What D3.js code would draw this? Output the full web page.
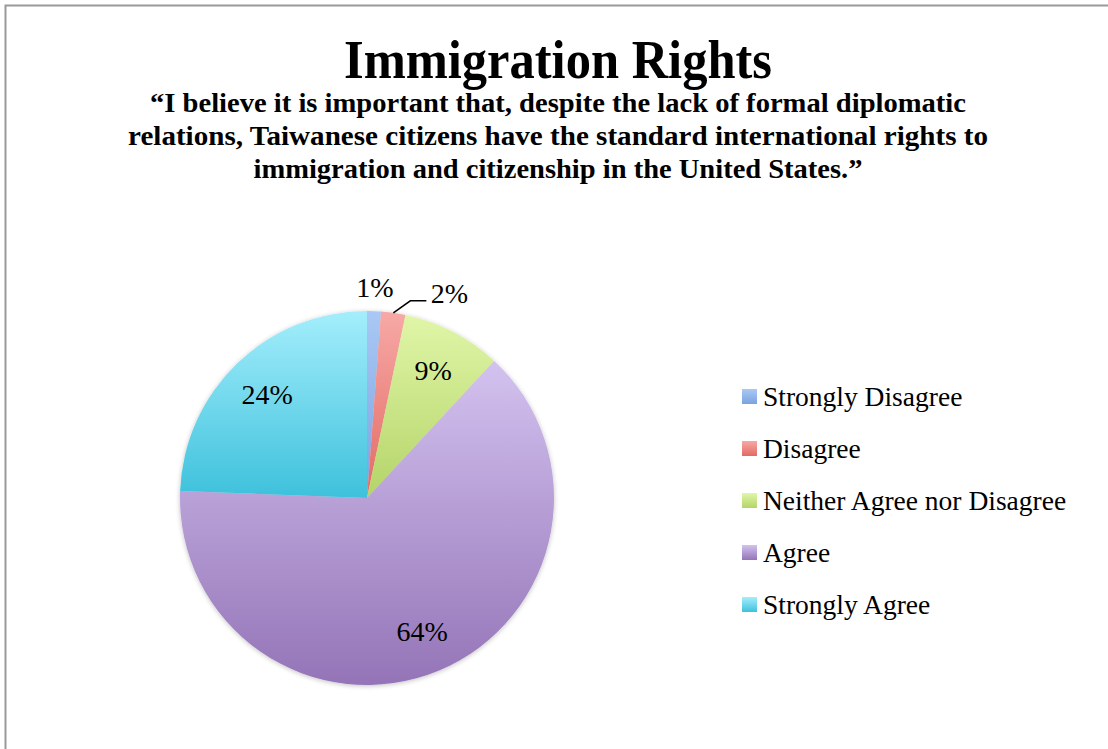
<!DOCTYPE html>
<html>
<head>
<meta charset="utf-8">
<script src="https://cdn.jsdelivr.net/npm/d3@7"></script>
<style>
  body { margin: 0; background: #fff; }
  svg { display: block; }
  text { font-family: "Liberation Serif", "DejaVu Serif", serif; fill: #000; }
</style>
</head>
<body>
<div id="chart"></div>
<script>
// Chart data
const categories = ["Strongly Disagree", "Disagree", "Neither Agree nor Disagree", "Agree", "Strongly Agree"];
const values = [1.2, 2.1, 8.6, 63.7, 24.4];
const labels = ["1%", "2%", "9%", "64%", "24%"];
const title = "Immigration Rights";
const subtitleLines = [
    "\u201cI believe it is important that, despite the lack of formal diplomatic",
    "relations, Taiwanese citizens have the standard international rights to",
    "immigration and citizenship in the United States.\u201d"
];
// gradient stops (top, bottom) per slice
const colorsTop = ["#a9c8f5", "#f7a9a6", "#e0f6a8", "#d3c2ef", "#a4eefc"];
const colorsBottom = ["#7aa3df", "#e26a64", "#b4d468", "#9474b7", "#3ec1dc"];

const W = 1108, H = 749;
const cx = 367, cy = 498, r = 187;

const svg = d3.select("#chart").append("svg")
    .attr("width", W)
    .attr("height", H);

// chart border (left + top)
svg.append("path")
    .attr("d", `M5.5,${H} V5.5 H${W}`)
    .attr("fill", "none")
    .attr("stroke", "#9a9a9a")
    .attr("stroke-width", 2);

// Titles
svg.append("text")
    .attr("x", 558).attr("y", 78)
    .attr("text-anchor", "middle")
    .attr("font-size", 54)
    .attr("font-weight", "bold")
    .attr("textLength", 428)
    .attr("lengthAdjust", "spacingAndGlyphs")
    .text(title);

const subWidths = [816, 860, 609];
svg.append("g").selectAll("text")
    .data(subtitleLines)
    .join("text")
        .attr("x", 558)
        .attr("y", (d, i) => 112 + i * 33)
        .attr("text-anchor", "middle")
        .attr("font-size", 27)
        .attr("font-weight", "bold")
        .attr("textLength", (d, i) => subWidths[i])
        .attr("lengthAdjust", "spacingAndGlyphs")
        .text(d => d);

// Gradients (per shape bounding box, light top -> dark bottom)
const defs = svg.append("defs");
categories.forEach((c, i) => {
    const g = defs.append("linearGradient")
        .attr("id", "grad" + i)
        .attr("x1", 0).attr("y1", 0)
        .attr("x2", 0).attr("y2", 1);
    g.append("stop").attr("offset", "0%").attr("stop-color", colorsTop[i]);
    g.append("stop").attr("offset", "100%").attr("stop-color", colorsBottom[i]);
});
const shadow = defs.append("filter").attr("id", "shadow")
    .attr("x", "-10%").attr("y", "-10%").attr("width", "120%").attr("height", "120%");
shadow.append("feGaussianBlur").attr("in", "SourceAlpha").attr("stdDeviation", 2.5);
shadow.append("feOffset").attr("dx", 0).attr("dy", 1).attr("result", "b");
shadow.append("feComponentTransfer").append("feFuncA").attr("type", "linear").attr("slope", 0.25);
const merge = shadow.append("feMerge");
merge.append("feMergeNode");
merge.append("feMergeNode").attr("in", "SourceGraphic");

// Pie
const pie = d3.pie().sort(null).value(d => d);
const arcs = pie(values);
const arc = d3.arc().innerRadius(0).outerRadius(r);

const pieG = svg.append("g")
    .attr("transform", `translate(${cx},${cy})`);

pieG.append("g")
    .attr("filter", "url(#shadow)")
    .selectAll("path")
    .data(arcs)
    .join("path")
        .attr("d", arc)
        .attr("fill", (d, i) => `url(#grad${i})`);

// leader line point for the "2%" label
const a1 = arcs[1];
const mid = (a1.startAngle + a1.endAngle) / 2;
const p0 = [Math.sin(mid) * r, -Math.cos(mid) * r];

// Data labels: small slices outside, others inside
const inArc = d3.arc().innerRadius(r * 0.77).outerRadius(r * 0.77);
const outArc = d3.arc().innerRadius(r + 24).outerRadius(r + 24);
const labelPos = arcs.map((d, i) => {
    if (i === 1) return [p0[0] + 56, p0[1] - 10];
    const c = (d.endAngle - d.startAngle < 0.1 ? outArc : inArc).centroid(d);
    return [c[0], c[1] + 10];
});

pieG.append("g").selectAll("text")
    .data(labels)
    .join("text")
        .attr("x", (d, i) => labelPos[i][0])
        .attr("y", (d, i) => labelPos[i][1])
        .attr("text-anchor", "middle")
        .attr("font-size", 28)
        .text(d => d);

pieG.append("path")
    .attr("d", `M${p0[0]},${p0[1]} L${p0[0] + 17},${p0[1] - 12} H${p0[0] + 33}`)
    .attr("fill", "none")
    .attr("stroke", "#000")
    .attr("stroke-width", 1.5);

// Legend
const legend = svg.append("g")
    .selectAll("g")
    .data(categories)
    .join("g")
        .attr("transform", (d, i) => `translate(742,${397 + i * 52})`);

legend.append("rect")
    .attr("x", 0).attr("y", -8)
    .attr("width", 15).attr("height", 15)
    .attr("fill", (d, i) => `url(#grad${i})`);

legend.append("text")
    .attr("x", 21)
    .attr("y", 9)
    .attr("font-size", 27.5)
    .text(d => d);
</script>
</body>
</html>
